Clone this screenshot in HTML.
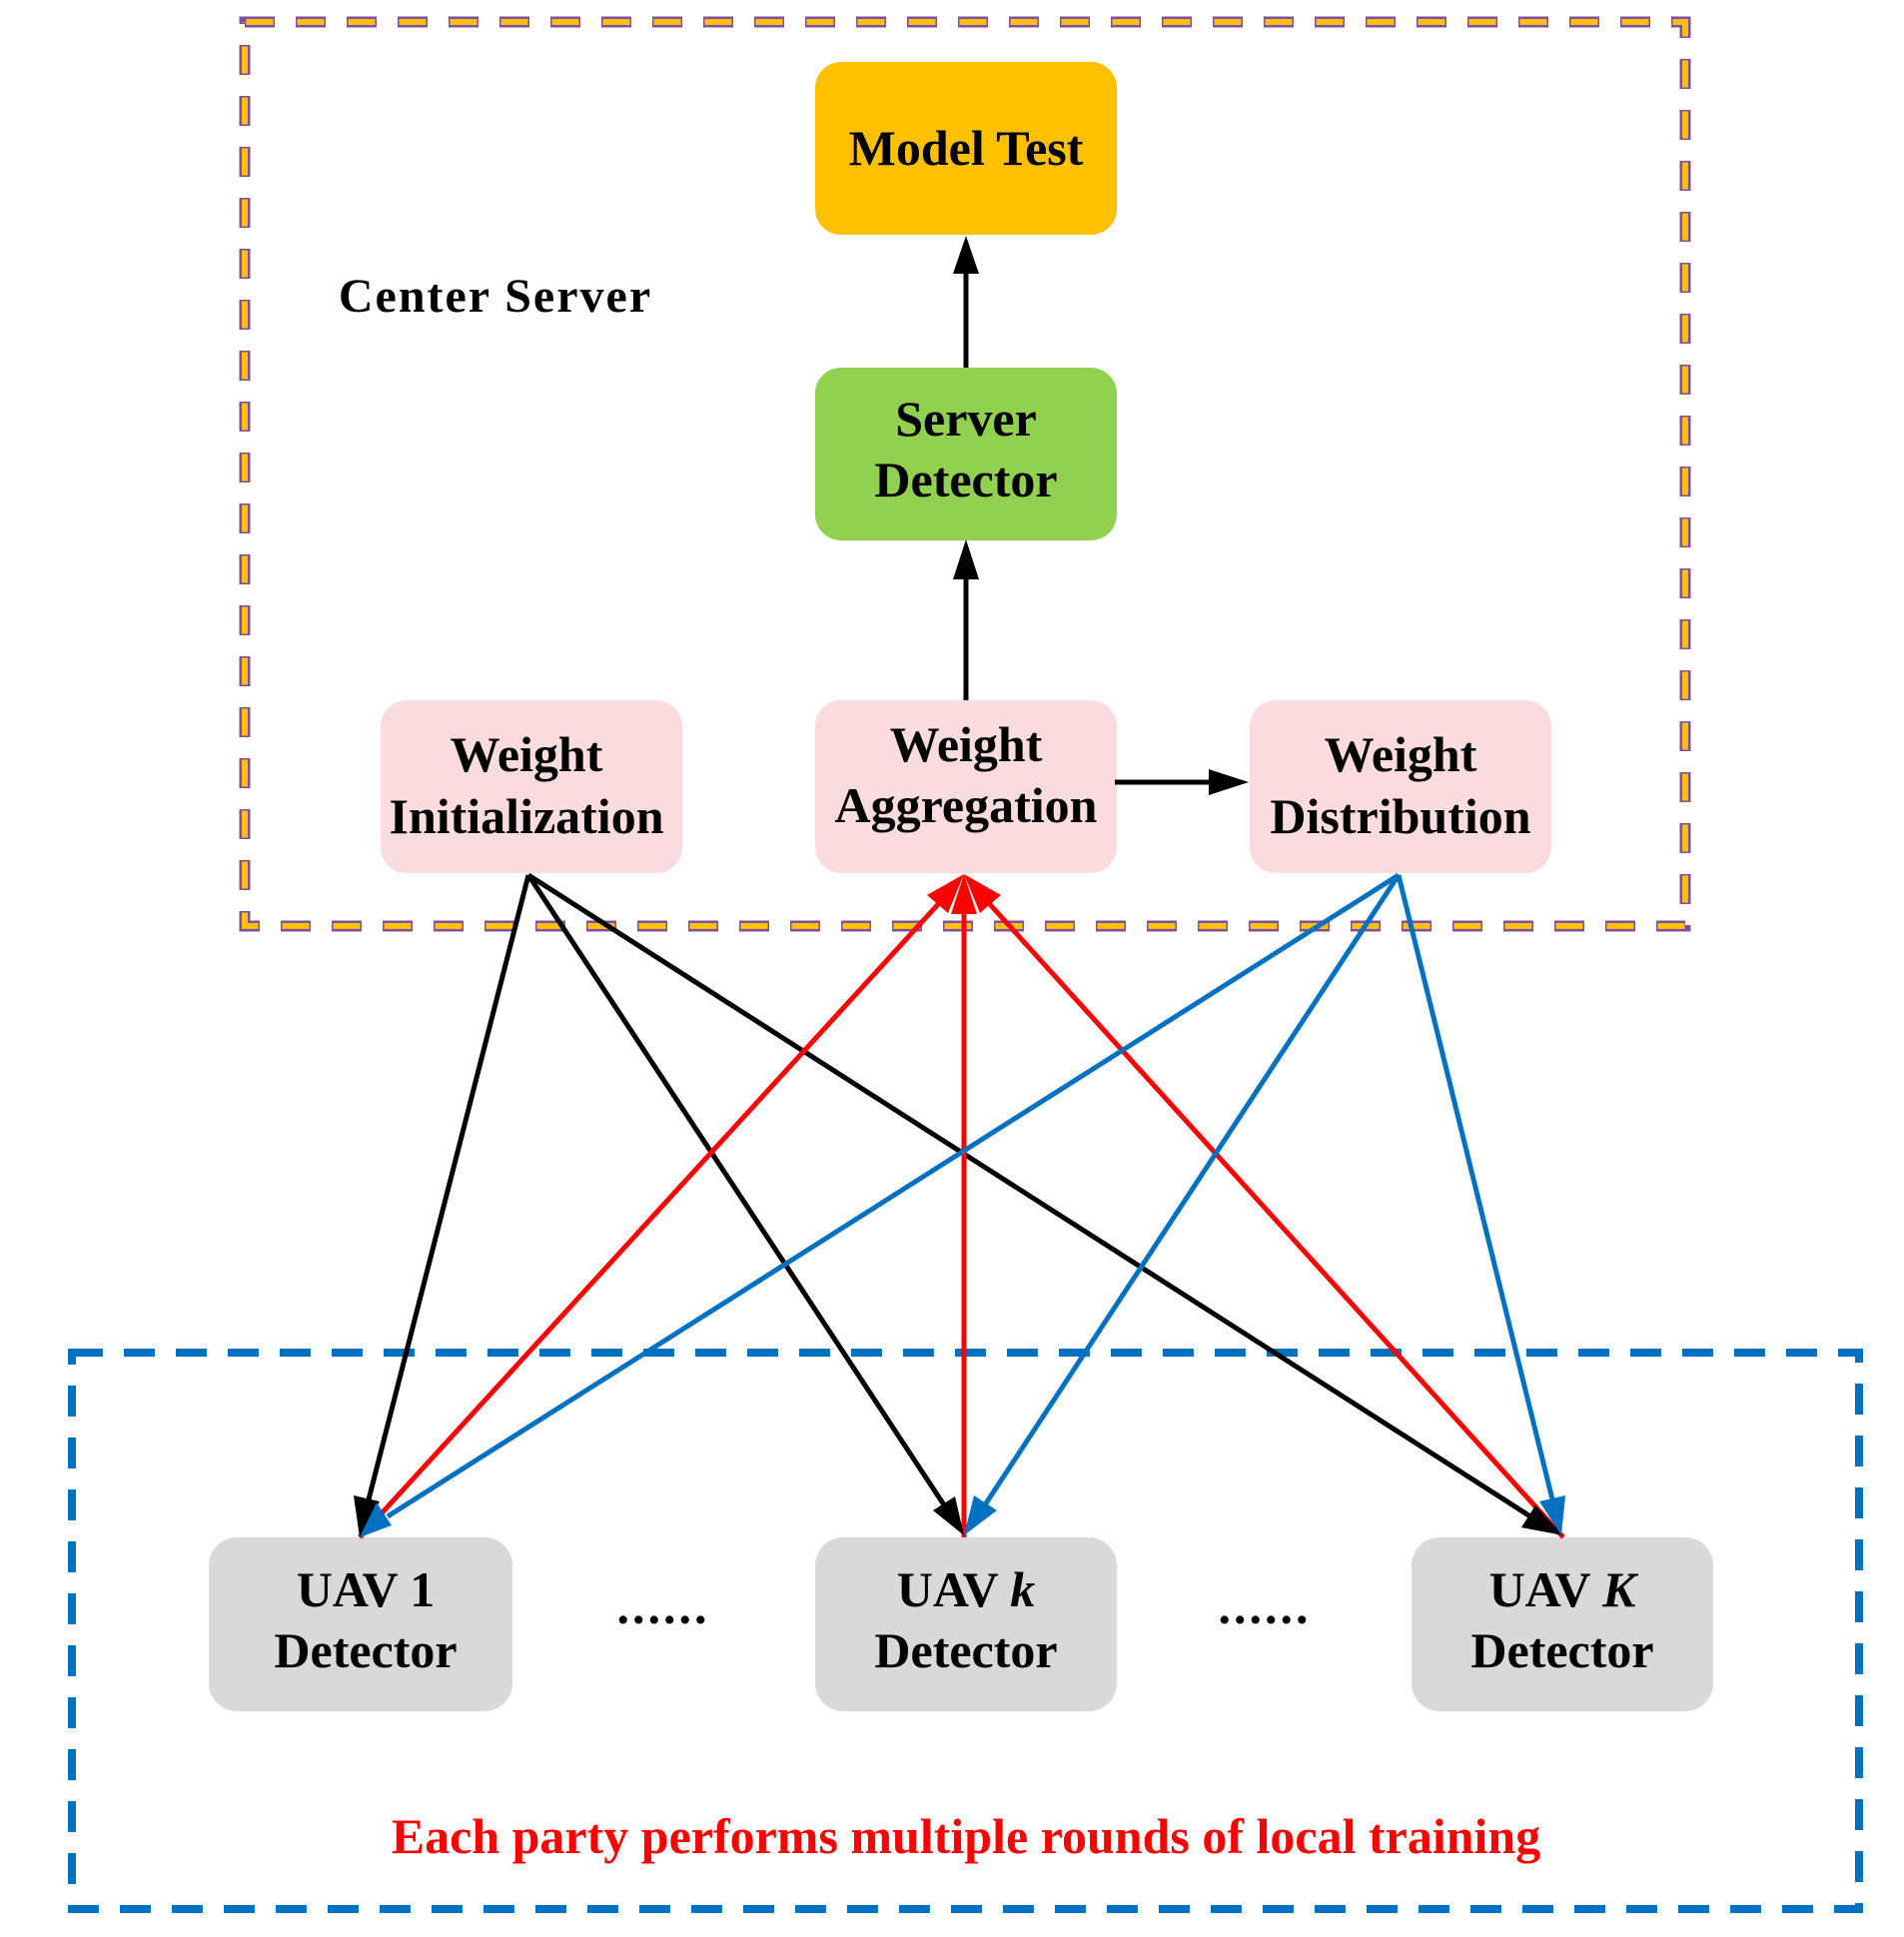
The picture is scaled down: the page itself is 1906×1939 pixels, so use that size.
<!DOCTYPE html>
<html><head><meta charset="utf-8"><style>
html,body{margin:0;padding:0;background:#fff}
svg{display:block}
text{font-family:"Liberation Serif",serif;font-weight:bold;text-anchor:middle}
</style></head><body>
<svg width="1906" height="1939" viewBox="0 0 1906 1939" xmlns="http://www.w3.org/2000/svg">
<rect x="245" y="22" width="1442" height="905" fill="none" stroke="#7f4fa8" stroke-width="11" stroke-dasharray="30 21"/>
<rect x="245" y="22" width="1442" height="905" fill="none" stroke="#ffc000" stroke-width="6" stroke-dasharray="27 24" stroke-dashoffset="-1.5"/>
<rect x="72" y="1354" width="1789" height="557" fill="none" stroke="#0070c0" stroke-width="8" stroke-dasharray="31 21"/>

<text x="496" y="312" font-size="48" letter-spacing="2">Center Server</text>

<rect x="816" y="62" width="302" height="173" rx="26" fill="#ffc000"/>
<text x="967" y="165" font-size="50">Model Test</text>
<rect x="816" y="368" width="302" height="173" rx="26" fill="#92d050"/>
<text x="967" y="436" font-size="50">Server</text>
<text x="967" y="497" font-size="50">Detector</text>

<rect x="381" y="701" width="302" height="173" rx="26" fill="#f9dbe0"/>
<text x="527" y="772" font-size="50">Weight</text>
<text x="527" y="834" font-size="50">Initialization</text>
<rect x="816" y="701" width="302" height="173" rx="26" fill="#f9dbe0"/>
<text x="967" y="762" font-size="50">Weight</text>
<text x="967" y="823" font-size="50">Aggregation</text>
<rect x="1251" y="701" width="302" height="173" rx="26" fill="#f9dbe0"/>
<text x="1402" y="772" font-size="50">Weight</text>
<text x="1402" y="834" font-size="50">Distribution</text>

<rect x="209" y="1539" width="304" height="174" rx="28" fill="#d9d9d9"/>
<text x="366" y="1608" font-size="50">UAV 1</text>
<text x="366" y="1669" font-size="50">Detector</text>
<rect x="816" y="1539" width="302" height="174" rx="28" fill="#d9d9d9"/>
<text x="967" y="1608" font-size="50">UAV <tspan font-style="italic">k</tspan></text>
<text x="967" y="1669" font-size="50">Detector</text>
<rect x="1413" y="1539" width="302" height="174" rx="28" fill="#d9d9d9"/>
<text x="1564" y="1608" font-size="50">UAV <tspan font-style="italic">K</tspan></text>
<text x="1564" y="1669" font-size="50">Detector</text>

<text x="664" y="1625" font-size="50" letter-spacing="3">......</text>
<text x="1266" y="1625" font-size="50" letter-spacing="3">......</text>

<text x="967" y="1855" font-size="50" fill="#ff0000">Each party performs multiple rounds of local training</text>

<g stroke-width="5" fill="none">
<line x1="967" y1="701" x2="967" y2="580" stroke="#000"/>
<line x1="967" y1="368" x2="967" y2="272" stroke="#000"/>
<line x1="1116" y1="783" x2="1212" y2="783" stroke="#000"/>
<line x1="529" y1="876" x2="368" y2="1505" stroke="#000"/>
<line x1="529" y1="876" x2="946" y2="1508" stroke="#000"/>
<line x1="529" y1="876" x2="1532" y2="1518" stroke="#000"/>
<line x1="360" y1="1539" x2="942" y2="902" stroke="#ff0000"/>
<line x1="965" y1="1539" x2="965" y2="915" stroke="#ff0000"/>
<line x1="1565" y1="1539" x2="988" y2="902" stroke="#ff0000"/>
<line x1="1400" y1="876" x2="388" y2="1518" stroke="#0070c0"/>
<line x1="1400" y1="876" x2="985" y2="1508" stroke="#0070c0"/>
<line x1="1400" y1="876" x2="1555" y2="1505" stroke="#0070c0"/>
</g>
<g>
<polygon points="967,540 954,580 980,580" fill="#000"/>
<polygon points="967,236 954,274 980,274" fill="#000"/>
<polygon points="1250,783 1210,770 1210,796" fill="#000"/>
<polygon points="360,1539 354,1497 380,1503" fill="#000"/>
<polygon points="965,1537 934,1512 956,1498" fill="#000"/>
<polygon points="1565,1537 1523,1529 1537,1507" fill="#000"/>
<polygon points="965,875 928,896 949,914" fill="#ff0000"/>
<polygon points="965,875 952,915 978,915" fill="#ff0000"/>
<polygon points="965,875 981,914 1002,896" fill="#ff0000"/>
<polygon points="360,1539 377,1504 392,1527" fill="#0070c0"/>
<polygon points="965,1537 975,1497 998,1512" fill="#0070c0"/>
<polygon points="1563,1537 1541,1503 1567,1497" fill="#0070c0"/>
</g>
</svg>
</body></html>
